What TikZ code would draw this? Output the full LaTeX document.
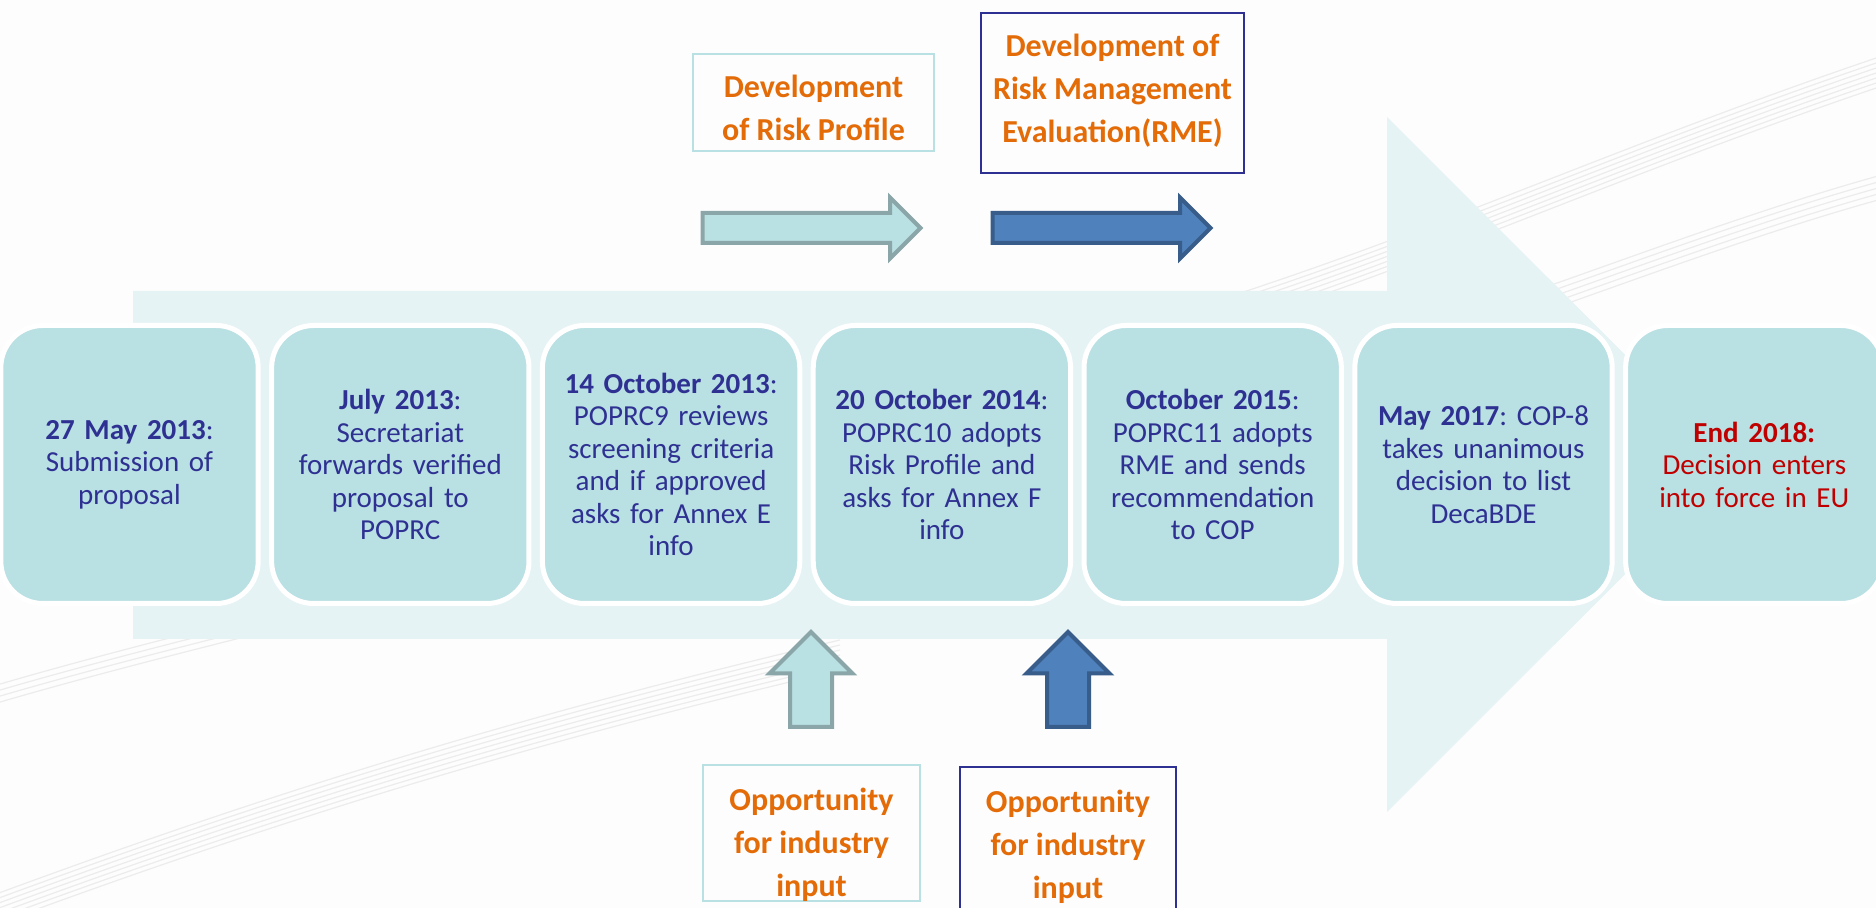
\documentclass[tikz,border=0pt]{standalone}
\usepackage{fontspec}
\setmainfont{Carlito}
\usetikzlibrary{shapes.arrows}

\definecolor{pagebg}{RGB}{253,253,253}
\definecolor{bandfill}{RGB}{230,243,245}
\definecolor{stagefill}{RGB}{185,224,227}
\definecolor{datetext}{RGB}{46,49,146}
\definecolor{notetext}{RGB}{227,108,9}
\definecolor{endtext}{RGB}{192,0,0}
\definecolor{tealedge}{RGB}{138,166,168}
\definecolor{bluefill}{RGB}{79,129,189}
\definecolor{blueedge}{RGB}{56,93,138}
\definecolor{navyedge}{RGB}{46,49,146}

\tikzset{
  stage/.style={draw=white, line width=2.5pt, fill=stagefill, rounded corners=21pt,
    minimum width=128pt, minimum height=139pt, text width=122pt, align=center,
    text=datetext, font=\frenchspacing\fontsize{14.5}{16.25}\selectfont},
  note/.style={align=center, text=notetext, font=\bfseries\fontsize{16}{21.5}\selectfont},
  blockarrow/.style={single arrow, single arrow tip angle=90, inner xsep=0pt, line width=2pt},
  streak/.style={gray!20, line width=0.6pt, opacity=0.7}
}

\begin{document}
\begin{tikzpicture}[x=0.5pt, y=-0.5pt, node distance=135.4pt]
  \useasboundingbox (0,0) rectangle (1876,908);
  \clip (0,0) rectangle (1876,908);
  \fill[pagebg] (0,0) rectangle (1876,908);

  % soft swooshes in the background
  \foreach \d in {0,5,...,30}
    \draw[streak] (1120,330+\d) .. controls (1400,250+\d) and (1600,150+\d) .. (1900,50+\d);
  \foreach \d in {0,6,...,24}
    \draw[streak] (1450,320+\d) .. controls (1600,270+\d) and (1750,210+\d) .. (1900,170+\d);
  \foreach \d in {0,5,...,30}
    \draw[streak] (-20,900+\d) .. controls (250,800+\d) and (500,720+\d) .. (840,640+\d);
  \foreach \d in {0,6,...,18}
    \draw[streak] (-20,690+\d) .. controls (80,660+\d) and (200,630+\d) .. (320,600+\d);

  % the big timeline arrow
  \fill[bandfill] (133,291) -- (1387,291) -- (1387,117) -- (1735,464.5)
    -- (1387,812) -- (1387,639) -- (133,639) -- cycle;

  % stages
  \node[stage] (may13) at (129.5,464.5) {\textbf{27 May 2013}:\\Submission of\\proposal};
  \node[stage, right of=may13] (jul13) {\textbf{July 2013}:\\Secretariat\\forwards verified\\proposal to\\POPRC};
  \node[stage, right of=jul13] (oct13) {\textbf{14 October 2013}:\\POPRC9 reviews\\screening criteria\\and if approved\\asks for Annex E\\info};
  \node[stage, right of=oct13] (oct14) {\textbf{20 October 2014}:\\POPRC10 adopts\\Risk Profile and\\asks for Annex F\\info};
  \node[stage, right of=oct14] (oct15) {\textbf{October 2015}:\\POPRC11 adopts\\RME and sends\\recommendation\\to COP};
  \node[stage, right of=oct15] (may17) {\textbf{May 2017}: COP-8\\takes unanimous\\decision to list\\DecaBDE};
  \node[stage, right of=may17, text=endtext] (end18) {\textbf{End 2018:}\\Decision enters\\into force in EU};

  % development phases
  \draw[stagefill, line width=1pt] (693,54) rectangle (934,151);
  \node[note] (profile) at (813.5,108) {Development\\of Risk Profile};
  \draw[navyedge, line width=1.2pt] (981,13) rectangle (1244,173);
  \node[note] (rme) at (1112.5,91) {Development of\\Risk Management\\Evaluation(RME)};

  \node[blockarrow, fill=stagefill, draw=tealedge, minimum height=109pt, minimum width=28.5pt,
    inner ysep=6.5pt, single arrow head extend=7.75pt] (profilearrow) at (804,228) {};
  \node[blockarrow, fill=bluefill, draw=blueedge, minimum height=109pt, minimum width=28.5pt,
    inner ysep=6.5pt, single arrow head extend=7.75pt] (rmearrow) at (1094,228) {};

  % input from industry
  \node[blockarrow, rotate=90, fill=stagefill, draw=tealedge, minimum height=47.5pt, minimum width=39.5pt,
    inner ysep=9.5pt, single arrow head extend=10.25pt] (inputarrowa) at (811,690) {};
  \node[blockarrow, rotate=90, fill=bluefill, draw=blueedge, minimum height=47.5pt, minimum width=39.5pt,
    inner ysep=9.5pt, single arrow head extend=10.25pt] (inputarrowb) at (1068,690) {};

  \draw[stagefill, line width=1pt] (703,765) rectangle (920,901);
  \node[note] (inputa) at (811.5,845) {Opportunity\\for industry\\input};
  \draw[navyedge, line width=1.2pt] (960,767) rectangle (1176,930);
  \node[note] (inputb) at (1068,847) {Opportunity\\for industry\\input};
\end{tikzpicture}
\end{document}
